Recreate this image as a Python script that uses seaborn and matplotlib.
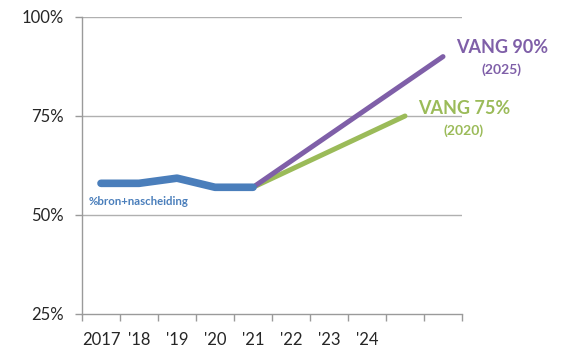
import matplotlib
matplotlib.use("Agg")
import matplotlib.pyplot as plt
import seaborn as sns
import pandas as pd
import numpy as np

categories = ["2017", "'18", "'19", "'20", "'21", "'22", "'23", "'24", "", ""]
hist_x = [0, 1, 2, 3, 4]
hist_vals = [58.0, 58.0, 59.3, 57.0, 57.0]
vang90_x = [4, 9]
vang90_vals = [57.0, 90.0]
vang75_x = [4, 8]
vang75_vals = [57.0, 75.0]
yticks = [25, 50, 75, 100]
ytick_labels = ["25%", "50%", "75%", "100%"]

sns.set_theme(style="white")
plt.rcParams["font.family"] = ["Lato", "DejaVu Sans"]

fig = plt.figure(figsize=(5.64, 3.48), dpi=100)
ax = fig.add_axes([82/564, 1 - 314/348, (462-82)/564, (314-17)/348])

blue = "#4a7ebb"
purple = "#7f5fa8"
green = "#9bbb59"

df_h = pd.DataFrame({"x": hist_x, "y": hist_vals})
df_p = pd.DataFrame({"x": vang90_x, "y": vang90_vals})
df_g = pd.DataFrame({"x": vang75_x, "y": vang75_vals})

sns.lineplot(data=df_g, x="x", y="y", ax=ax, color=green, linewidth=3.6, solid_capstyle="round", zorder=3)
sns.lineplot(data=df_p, x="x", y="y", ax=ax, color=purple, linewidth=3.6, solid_capstyle="round", zorder=4)
sns.lineplot(data=df_h, x="x", y="y", ax=ax, color=blue, linewidth=5.5, solid_capstyle="round", zorder=5)

ax.set_xlim(-0.5, 9.5)
ax.set_ylim(25, 100)
ax.set_yticks(yticks)
ax.set_yticklabels(ytick_labels, fontsize=12)
ax.set_xticks(range(len(categories)))
ax.set_xticklabels(categories, fontsize=12)
ax.set_xticks(np.arange(-0.5, 10, 1), minor=True)
ax.tick_params(axis="x", which="major", length=0, pad=13)
ax.tick_params(axis="x", which="minor", length=5, color="#9a9a9a", width=1, direction="out", bottom=True)
ax.tick_params(axis="y", length=5, color="#9a9a9a", width=1, direction="out", left=True, pad=8)
ax.set_xlabel("")
ax.set_ylabel("")
for y in [50, 75, 100]:
    ax.axhline(y, color="#b0b0b0", linewidth=1, zorder=1)
for s in ["top", "right"]:
    ax.spines[s].set_visible(False)
for s in ["left", "bottom"]:
    ax.spines[s].set_color("#9a9a9a")
    ax.spines[s].set_linewidth(1)

ax.text(-0.32, 53.5, "%bron+nascheiding", color=blue, fontsize=8.2, fontweight="bold", ha="left", va="center")
ax.text(10.55, 92.4, "VANG 90%", color=purple, fontsize=13, fontweight="bold", ha="center", va="center", clip_on=False)
ax.text(10.55, 86.6, "(2025)", color=purple, fontsize=10, fontweight="bold", ha="center", va="center", clip_on=False)
ax.text(9.55, 77.0, "VANG 75%", color=green, fontsize=13, fontweight="bold", ha="center", va="center", clip_on=False)
ax.text(9.55, 71.3, "(2020)", color=green, fontsize=10, fontweight="bold", ha="center", va="center", clip_on=False)

fig.savefig("out.png", dpi=100, facecolor="white")
